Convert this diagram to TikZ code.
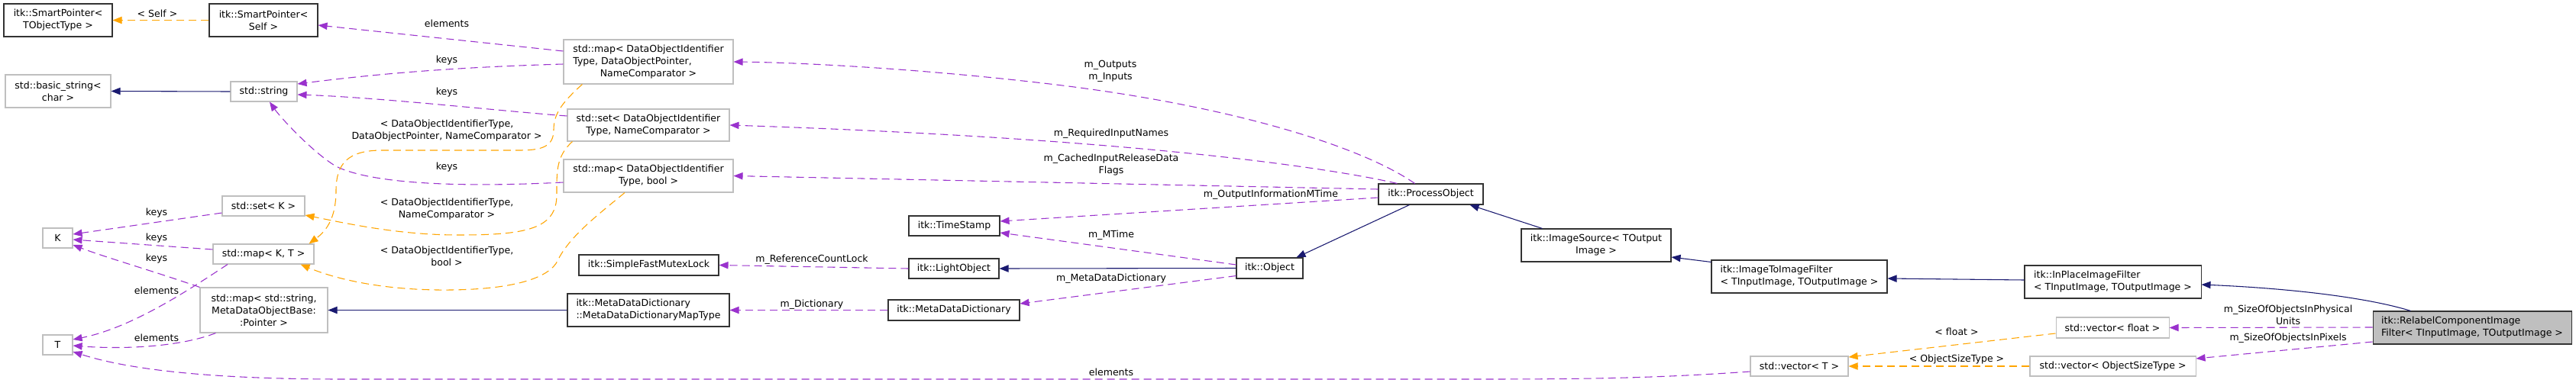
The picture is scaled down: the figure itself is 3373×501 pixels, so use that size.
\documentclass[tikz,border=0pt]{standalone}
\usepackage{fontspec}
\setmainfont{DejaVu Sans}
\usetikzlibrary{arrows.meta,calc}
\definecolor{purp}{HTML}{9A32CD}
\definecolor{orng}{HTML}{FFA500}
\definecolor{navy}{HTML}{191970}
\definecolor{grey75}{HTML}{BFBFBF}
\begin{document}
\begin{tikzpicture}[x=0.75pt,y=-0.75pt,
  every node/.style={font=\fontsize{9.4}{12}\selectfont},
  sz/.style 2 args={minimum width={#1*0.75pt}, minimum height={#2*0.75pt}},
  gbox/.style={draw=grey75, line width=0.8pt, fill=white, inner sep=0pt, align=center},
  bbox/.style={draw=black!80, line width=0.8pt, fill=white, inner sep=0pt, align=center},
  lbl/.style={inner sep=0pt, align=center},
  mem/.style={draw=purp, line width=0.8pt, dash pattern=on 7.5pt off 4.5pt, -{Triangle[length=9pt,width=7pt]}},
  tmpl/.style={draw=orng, line width=0.8pt, dash pattern=on 7.5pt off 4.5pt, -{Triangle[length=9pt,width=7pt]}},
  inh/.style={draw=navy, line width=0.8pt, -{Triangle[length=9pt,width=7pt]}}
]
\useasboundingbox (0,0) rectangle (3373,501);
\fill[white] (0,0) rectangle (3373,501);

% nodes
\node[bbox, sz={142}{43}] (spT) at (76,26.5) {itk::SmartPointer<\\TObjectType >};
\node[bbox, sz={142}{43}] (spS) at (345,26.5) {itk::SmartPointer<\\Self >};
\node[gbox, sz={138}{43}] (bstr) at (76,119.5) {std::basic\_string<\\char >};
\node[gbox, sz={87}{26}] (str) at (345.5,120) {std::string};
\node[gbox, sz={108}{26}] (setK) at (345,270) {std::set< K >};
\node[gbox, sz={39}{26}] (K) at (75.5,312) {K};
\node[gbox, sz={132}{26}] (mapKT) at (345,333) {std::map< K, T >};
\node[gbox, sz={167}{59}] (mapStr) at (345.5,406.5) {std::map< std::string,\\MetaDataObjectBase:\\:Pointer >};
\node[gbox, sz={39}{26}] (T) at (75.5,452) {T};
\node[gbox, sz={222}{58}] (mapDOP) at (849,81) {\begin{tabular}{@{}l@{}}std::map< DataObjectIdentifier\\Type, DataObjectPointer,\\\multicolumn{1}{@{}c@{}}{NameComparator >}\end{tabular}};
\node[gbox, sz={212}{42}] (setDOI) at (849,164) {std::set< DataObjectIdentifier\\Type, NameComparator >};
\node[gbox, sz={222}{43}] (mapBool) at (849,230.5) {std::map< DataObjectIdentifier\\Type, bool >};
\node[bbox, sz={119}{26}] (ts) at (1249.5,296) {itk::TimeStamp};
\node[bbox, sz={183}{27}] (sfml) at (849.5,347.5) {itk::SimpleFastMutexLock};
\node[bbox, sz={118}{26}] (lo) at (1249,352) {itk::LightObject};
\node[bbox, sz={212}{43}, align=left] (mddmt) at (849,406.5) {itk::MetaDataDictionary\\::MetaDataDictionaryMapType};
\node[bbox, sz={172}{27}] (mdd) at (1249,406.5) {itk::MetaDataDictionary};
\node[bbox, sz={137}{27}] (po) at (1873.5,254.5) {itk::ProcessObject};
\node[bbox, sz={87}{27}] (obj) at (1662.5,351.5) {itk::Object};
\node[bbox, sz={196}{43}] (isrc) at (2090,321.5) {itk::ImageSource< TOutput\\Image >};
\node[bbox, sz={230}{43}, align=left] (i2i) at (2356,362.5) {itk::ImageToImageFilter\\< TInputImage, TOutputImage >};
\node[gbox, sz={128}{26}] (vecT) at (2356,480) {std::vector< T >};
\node[bbox, sz={231}{43}, align=left] (inplace) at (2766.5,369.5) {itk::InPlaceImageFilter\\< TInputImage, TOutputImage >};
\node[gbox, sz={148}{27}] (vecF) at (2766,429.5) {std::vector< float >};
\node[gbox, sz={217}{26}] (vecOST) at (2766.5,480) {std::vector< ObjectSizeType >};
\node[bbox, fill=grey75, sz={260}{43}, align=left] (relabel) at (3237,429.5) {itk::RelabelComponentImage\\Filter< TInputImage, TOutputImage >};

% edges
\draw[tmpl] (spS.west) -- (spT.east);
\draw[mem] ($(mapDOP.west)+(0,-14)$) -- ($(spS.east)+(0,6.5)$);
\draw[mem] ($(mapDOP.west)+(0,3)$) .. controls (600,88) and (500,96) .. ($(str.east)+(0,-10)$);
\draw[mem] ($(setDOI.west)+(0,-12)$) .. controls (650,145) and (500,128) .. ($(str.east)+(0,4)$);
\draw[mem] ($(mapBool.west)+(0,8.5)$) .. controls (580,247) and (480,238) .. (440,218) .. controls (410,200) and (368,155) .. ($(str.south)+(7.5,0)$);
\draw[mem] ($(setK.west)+(0,9)$) -- ($(K.east)+(0,-5)$);
\draw[mem] ($(mapKT.west)+(0,-6)$) -- ($(K.east)+(0,2)$);
\draw[mem] (mapStr.north west) .. controls (200,355) and (140,338) .. ($(K.east)+(0,9)$);
\draw[mem] ($(mapKT.south)+(-47,0)$) .. controls (240,385) and (170,430) .. ($(T.east)+(0,-7)$);
\draw[mem] ($(mapStr.south west)+(21,0)$) .. controls (235,455) and (160,458) .. ($(T.east)+(0,1)$);
\draw[mem] ($(vecT.west)+(0,7)$) .. controls (2150,497) and (2050,497) .. (1900,497) -- (450,497) .. controls (280,497) and (170,485) .. ($(T.east)+(0,9)$);
\draw[tmpl] ($(setDOI.south west)+(7,0)$) .. controls (728,205) and (729,225) .. (729,255) .. controls (729,300) and (690,308) .. (600,308) .. controls (520,308) and (450,292) .. ($(setK.east)+(0,12)$);
\draw[tmpl] ($(mapDOP.south west)+(25,0)$) .. controls (735,135) and (725,150) .. (725,170) .. controls (725,192) and (710,197) .. (680,197) -- (500,197) .. controls (455,197) and (440,215) .. (440,250) .. controls (440,285) and (428,302) .. ($(mapKT.north east)+(-7,0)$);
\draw[tmpl] ($(mapBool.south)+(-31,0)$) .. controls (785,280) and (745,310) .. (730,342) .. controls (720,362) and (680,379) .. (590,380) .. controls (510,381) and (445,368) .. ($(mapKT.south east)+(-18,0)$);
\draw[mem] (lo.west) -- (sfml.east);
\draw[mem] (mdd.west) -- (mddmt.east);
\draw[inh] (mddmt.west) -- (mapStr.east);
\draw[inh] (str.west) -- (bstr.east);
\draw[inh] (obj.west) -- (lo.east);
\draw[mem] ($(obj.west)+(0,-4.5)$) -- ($(ts.east)+(0,9)$);
\draw[mem] ($(obj.west)+(0,10)$) -- ($(mdd.east)+(0,-8.5)$);
\draw[mem] ($(po.west)+(0,4.5)$) -- ($(ts.east)+(0,-6)$);
\draw[mem] ($(po.west)+(0,-6.5)$) -- (mapBool.east);
\draw[mem] ($(po.north west)+(25,0)$) .. controls (1750,222) and (1500,182) .. (setDOI.east);
\draw[mem] ($(po.north)+(-21,0)$) .. controls (1780,190) and (1600,135) .. (1357,108) .. controls (1200,90) and (1050,82) .. (mapDOP.east);
\draw[inh] ($(po.south)+(-28,0)$) -- ($(obj.north)+(35,0)$);
\draw[inh] ($(isrc.north west)+(28,0)$) -- ($(po.south east)+(-18,0)$);
\draw[inh] ($(i2i.north west)+(0,3)$) -- ($(isrc.east)+(0,15.5)$);
\draw[inh] ($(inplace.west)+(0,-2.5)$) -- ($(i2i.east)+(0,2.5)$);
\draw[inh] ($(relabel.north west)+(50,0)$) .. controls (3100,390) and (3000,378) .. ($(inplace.east)+(0,3.5)$);
\draw[tmpl] ($(vecF.west)+(0,7.5)$) -- ($(vecT.east)+(0,-12)$);
\draw[tmpl] (vecOST.west) -- (vecT.east);
\draw[mem] ($(relabel.west)+(0,-0.5)$) -- (vecF.east);
\draw[mem] ($(relabel.west)+(0,18.5)$) -- ($(vecOST.east)+(0,-10)$);

% labels
\node[lbl] (l1) at (206,18) {< Self >};
\node[lbl] (l2) at (585,31) {elements};
\node[lbl] (l3) at (585,79) {keys};
\node[lbl] (l4) at (585,121) {keys};
\node[lbl] (l5) at (585,171) {< DataObjectIdentifierType,\\DataObjectPointer, NameComparator >};
\node[lbl] (l6) at (585,219) {keys};
\node[lbl] (l7) at (585,274) {< DataObjectIdentifierType,\\NameComparator >};
\node[lbl] (l8) at (585,336) {< DataObjectIdentifierType,\\bool >};
\node[lbl] (l9) at (205,279) {keys};
\node[lbl] (l10) at (205,312) {keys};
\node[lbl] (l11) at (205,339) {keys};
\node[lbl] (l12) at (205,381) {elements};
\node[lbl] (l13) at (205,443) {elements};
\node[lbl] (l14) at (1455,488) {elements};
\node[lbl] (l15) at (1063,340) {m\_ReferenceCountLock};
\node[lbl] (l16) at (1063,399) {m\_Dictionary};
\node[lbl] (l17) at (1454,93) {m\_Outputs\\m\_Inputs};
\node[lbl] (l18) at (1455,175) {m\_RequiredInputNames};
\node[lbl] (l19) at (1455,216) {m\_CachedInputReleaseData\\Flags};
\node[lbl] (l20) at (1664,255) {m\_OutputInformationMTime};
\node[lbl] (l21) at (1455,308) {m\_MTime};
\node[lbl] (l22) at (1455,365) {m\_MetaDataDictionary};
\node[lbl] (l23) at (2562,435) {< float >};
\node[lbl] (l24) at (2562,471) {< ObjectSizeType >};
\node[lbl] (l25) at (2996,413) {m\_SizeOfObjectsInPhysical\\Units};
\node[lbl] (l26) at (2996,443) {m\_SizeOfObjectsInPixels};
\end{tikzpicture}
\end{document}
